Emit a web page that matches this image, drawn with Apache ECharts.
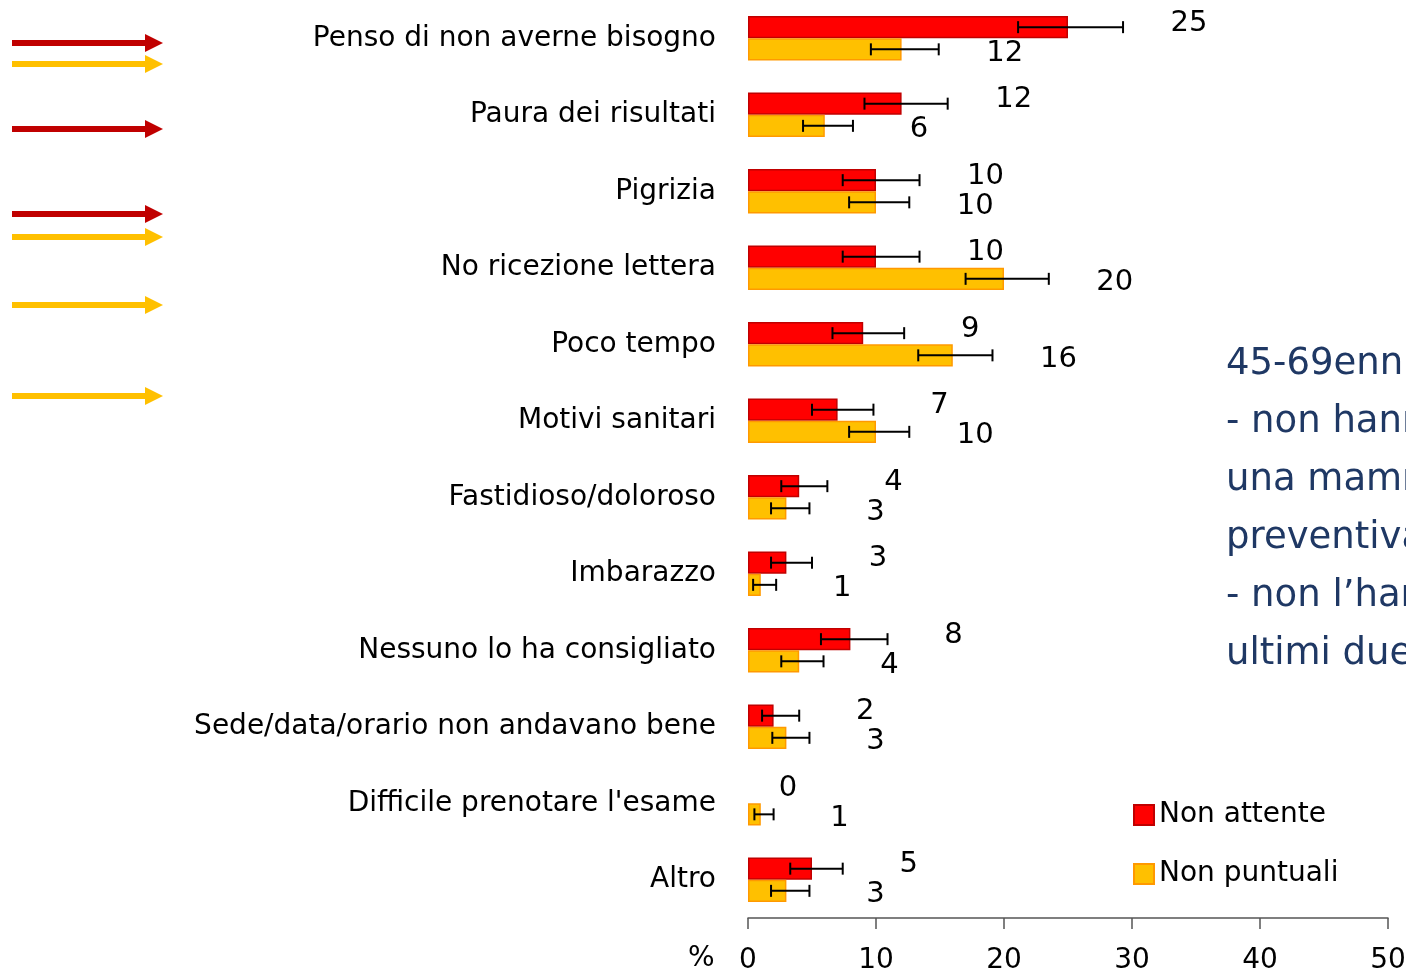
<!DOCTYPE html>
<html>
<head>
<meta charset="utf-8">
<script src="https://cdn.jsdelivr.net/npm/echarts@6/dist/echarts.min.js"></script>
<style>
html,body{margin:0;padding:0;background:#fff;}
#main{width:1406px;height:972px;}
</style>
</head>
<body>
<div id="main"></div>
<script>
const categories = [
  'Penso di non averne bisogno',
  'Paura dei risultati',
  'Pigrizia',
  'No ricezione lettera',
  'Poco tempo',
  'Motivi sanitari',
  'Fastidioso/doloroso',
  'Imbarazzo',
  'Nessuno lo ha consigliato',
  'Sede/data/orario non andavano bene',
  "Difficile prenotare l'esame",
  'Altro'
];
const seriesNames = ['Non attente', 'Non puntuali'];
const attente = [25, 12, 10, 10, 9, 7, 4, 3, 8, 2, 0, 5];
const puntuali = [12, 6, 10, 20, 16, 10, 3, 1, 4, 3, 1, 3];
const attenteLow  = [21.1, 9.1, 7.4, 7.4, 6.6, 5.0, 2.6, 1.8, 5.7, 1.1, null, 3.3];
const attenteHigh = [29.3, 15.6, 13.4, 13.4, 12.2, 9.8, 6.2, 5.0, 10.9, 4.0, null, 7.4];
const puntualiLow  = [9.6, 4.3, 7.9, 17.0, 13.3, 7.9, 1.8, 0.4, 2.6, 1.9, 0.5, 1.8];
const puntualiHigh = [14.9, 8.2, 12.6, 23.5, 19.1, 12.6, 4.8, 2.2, 5.9, 4.8, 2.0, 4.8];
const xTicks = [0, 10, 20, 30, 40, 50];
const sideText = "45-69enni che:\n- non hanno mai fatto\nuna mammografia\npreventiva\n- non l\u2019hanno fatta negli\nultimi due anni";

const FONT = 'DejaVu Sans';
const GAP = 0.42;

function errData(vals, lows, highs) {
  return vals.map((v, i) => [i, lows[i], highs[i], v]);
}

function makeErrRender(slot) {
  return function (params, api) {
    const idx = api.value(0);
    const low = api.value(1);
    const high = api.value(2);
    const val = api.value(3);
    const center = api.coord([0, idx]);
    const band = api.size([0, 1])[1];
    const barW = band * (1 - GAP) / 2;
    const cy = center[1] + (slot === 0 ? -barW / 2 : barW / 2);
    const children = [];
    const style = { stroke: '#000', lineWidth: 2 };
    const cap = 6;
    let labelX;
    if (low != null && !isNaN(low) && high != null && !isNaN(high)) {
      const p1 = api.coord([low, idx])[0];
      const p2 = api.coord([high, idx])[0];
      children.push({ type: 'line', shape: { x1: p1, y1: cy, x2: p2, y2: cy }, style: style });
      children.push({ type: 'line', shape: { x1: p1, y1: cy - cap, x2: p1, y2: cy + cap }, style: style });
      children.push({ type: 'line', shape: { x1: p2, y1: cy - cap, x2: p2, y2: cy + cap }, style: style });
      labelX = p2 + 66;
    } else {
      labelX = api.coord([val, idx])[0] + 40;
    }
    const ly = cy + (slot === 0 ? -4 : 4);
    children.push({
      type: 'text',
      style: {
        text: String(val), x: labelX, y: ly,
        align: 'center', verticalAlign: 'middle',
        font: '29px "' + FONT + '"', fill: '#000'
      }
    });
    return { type: 'group', children: children };
  };
}

function arrow(y, color) {
  return [
    { type: 'rect', shape: { x: 12, y: y - 3, width: 136, height: 6 }, style: { fill: color } },
    { type: 'polygon', shape: { points: [[145, y - 9], [163, y], [145, y + 9]] }, style: { fill: color } }
  ];
}
const RED_A = '#C00000', YEL_A = '#FFC000';
let graphics = [];
graphics = graphics.concat(arrow(43, RED_A), arrow(64, YEL_A), arrow(129, RED_A),
  arrow(214, RED_A), arrow(237, YEL_A), arrow(305, YEL_A), arrow(396, YEL_A));
graphics.push({
  type: 'text', left: 688, top: 945,
  style: { text: '%', font: '28px "' + FONT + '"', fill: '#000' }
});
graphics.push({
  type: 'text', left: 1226, top: 335,
  style: { text: sideText, font: '500 37px "' + FONT + '"', fill: '#1F3864', lineHeight: 58 }
});

const chart = echarts.init(document.getElementById('main'));
chart.setOption({
  animation: false,
  backgroundColor: '#fff',
  grid: { left: 748, right: 18, top: 0, bottom: 54, containLabel: false, outerBoundsMode: 'none' },
  legend: {
    data: seriesNames,
    orient: 'vertical',
    left: 1128, top: 796,
    itemWidth: 20, itemHeight: 20, itemGap: 31,
    textStyle: { fontFamily: FONT, fontSize: 28, color: '#000' },
    icon: 'rect'
  },
  xAxis: {
    type: 'value', min: 0, max: 50, interval: 10,
    axisLine: { show: true, lineStyle: { color: '#555', width: 1.5 } },
    axisTick: { show: true, length: 11, lineStyle: { color: '#555', width: 1.5 } },
    axisLabel: { fontFamily: FONT, fontSize: 28, color: '#000', margin: 29,
      formatter: v => xTicks.includes(v) ? String(v) : '' },
    splitLine: { show: false }
  },
  yAxis: {
    type: 'category', data: categories, inverse: true,
    axisLine: { show: false }, axisTick: { show: false },
    axisLabel: { fontFamily: FONT, fontSize: 28, color: '#000', margin: 32 }
  },
  graphic: graphics,
  series: [
    {
      name: seriesNames[0], type: 'bar',
      data: attente.map(v => v === 0 ? { value: 0, itemStyle: { borderWidth: 0 } } : v),
      barGap: '0%', barCategoryGap: (GAP * 100) + '%',
      itemStyle: { color: '#FF0000', borderColor: '#C00000', borderWidth: 1.5 }
    },
    {
      name: seriesNames[1], type: 'bar', data: puntuali,
      barGap: '0%', barCategoryGap: (GAP * 100) + '%',
      itemStyle: { color: '#FFC000', borderColor: '#FF9900', borderWidth: 1.5 }
    },
    {
      name: 'errA', type: 'custom', renderItem: makeErrRender(0),
      data: errData(attente, attenteLow, attenteHigh), z: 5,
      encode: { x: [1, 2], y: 0 }
    },
    {
      name: 'errP', type: 'custom', renderItem: makeErrRender(1),
      data: errData(puntuali, puntualiLow, puntualiHigh), z: 5,
      encode: { x: [1, 2], y: 0 }
    }
  ]
});
</script>
</body>
</html>
